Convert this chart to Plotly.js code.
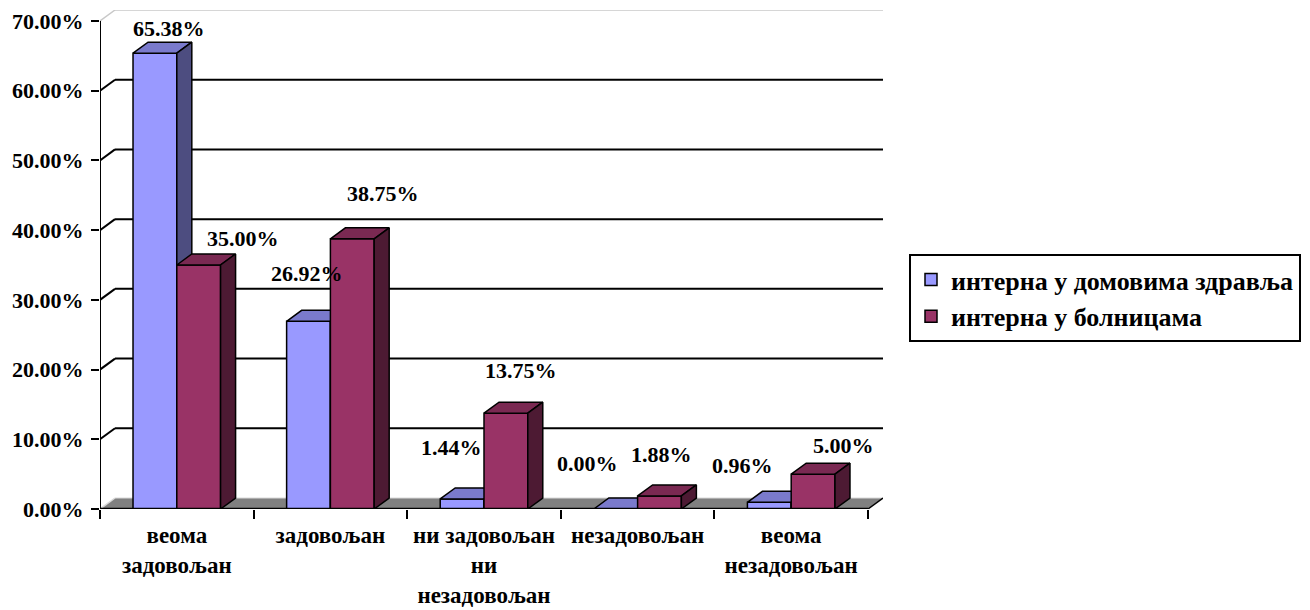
<!DOCTYPE html>
<html>
<head>
<meta charset="utf-8">
<script src="https://cdn.plot.ly/plotly-3.0.1.min.js"></script>
<style>
  html, body { margin: 0; padding: 0; background: #fff; }
  #chart { width: 1310px; height: 610px; }
  #chart svg text { font-family: 'Liberation Serif', 'Times New Roman', serif !important; }
</style>
</head>
<body>
<div id="chart"></div>
<script>
// Satisfaction with internal medicine services, two settings
const categories = [
  'веома<br>задовољан',
  'задовољан',
  'ни задовољан<br>ни<br>незадовољан',
  'незадовољан',
  'веома<br>незадовољан'
];
const seriesNames = ['интерна у домовима здравља', 'интерна у болницама'];
const healthCenters = [65.38, 26.92, 1.44, 0.00, 0.96];
const hospitals = [35.00, 38.75, 13.75, 1.88, 5.00];
const yTicks = [0, 10, 20, 30, 40, 50, 60, 70];
const yTickText = yTicks.map(t => t.toFixed(2) + '%');

// Pseudo-3D geometry (category units / percent units)
const BAR_W = 0.285;      // width of each column front face
const DEPTH_X = 0.0977;   // horizontal depth offset
const DEPTH_Y = 1.578;    // vertical depth offset
const Y_MAX = 70;

const FONT = 'Liberation Serif';

const palette = [
  { front: '#9999FF', top: '#7A7ACC', side: '#4D4D80' },
  { front: '#993366', top: '#7A2952', side: '#4D1A33' }
];

// Label nudges in pixels [right, down] relative to the back-top centre of each column
const labelNudge = [
  [[-1, -14], [-17, -37], [-26, -40], [-43, -35], [-42, -26]],
  [[29, -16], [16, -34], [0, -32], [-13, -30], [15, -18]]
];

const seriesValues = [healthCenters, hospitals];
const idx = categories.map((_, i) => i);

function facePolys(values, offset) {
  const top = { x: [], y: [] };
  const side = { x: [], y: [] };
  values.forEach((v, i) => {
    const a = i + offset, b = a + BAR_W;
    top.x.push(a, b, b + DEPTH_X, a + DEPTH_X, a, null);
    top.y.push(v, v, v + DEPTH_Y, v + DEPTH_Y, v, null);
    side.x.push(b, b + DEPTH_X, b + DEPTH_X, b, b, null);
    side.y.push(0, DEPTH_Y, v + DEPTH_Y, v, 0, null);
  });
  return { top, side };
}

const traces = [];
seriesValues.forEach((vals, s) => {
  const offset = s === 0 ? -BAR_W : 0;
  const xa = s === 0 ? 'x' : 'x2';
  const ya = s === 0 ? 'y' : 'y2';
  traces.push({
    type: 'bar', name: seriesNames[s], x: idx, y: vals,
    width: BAR_W, offset: offset, xaxis: xa, yaxis: ya,
    marker: { color: palette[s].front, line: { color: '#000', width: 1.5 } },
    hoverinfo: 'skip', legendrank: s + 1
  });
  const f = facePolys(vals, offset);
  ['top', 'side'].forEach(k => {
    traces.push({
      type: 'scatter', mode: 'lines', x: f[k].x, y: f[k].y,
      xaxis: xa, yaxis: ya, fill: 'toself', fillcolor: palette[s][k],
      line: { color: '#000', width: 1.5 }, showlegend: false, hoverinfo: 'skip'
    });
  });
});

const shapes = [];
// floor
shapes.push({
  type: 'path', xref: 'x', yref: 'y', layer: 'below',
  path: `M${-0.5},0 L4.5,0 L${4.5 + DEPTH_X},${DEPTH_Y} L${-0.5 + DEPTH_X},${DEPTH_Y} Z`,
  fillcolor: '#808080', line: { width: 0 }
});
shapes.push({
  type: 'line', xref: 'x', yref: 'y', layer: 'below',
  x0: -0.5, y0: 0, x1: -0.5 + DEPTH_X, y1: DEPTH_Y, line: { color: '#d9d9d9', width: 1.5 }
});
shapes.push({
  type: 'line', xref: 'x', yref: 'y', layer: 'below',
  x0: -0.5 + DEPTH_X, y0: DEPTH_Y, x1: 4.5 + DEPTH_X, y1: DEPTH_Y, line: { color: '#d9d9d9', width: 1 }
});
// back-wall gridlines with their diagonal connectors
yTicks.filter(t => t > 0).forEach(t => {
  const col = t === Y_MAX ? '#c8c8c8' : '#000';
  const w = t === Y_MAX ? 1.5 : 2;
  shapes.push({
    type: 'line', xref: 'x', yref: 'y', layer: 'below',
    x0: -0.5 + DEPTH_X, y0: t + DEPTH_Y, x1: 4.5 + DEPTH_X, y1: t + DEPTH_Y,
    line: { color: col, width: w }
  });
  shapes.push({
    type: 'line', xref: 'x', yref: 'y', layer: 'below',
    x0: -0.5, y0: t, x1: -0.5 + DEPTH_X, y1: t + DEPTH_Y,
    line: { color: col, width: w }
  });
});
// front axes
shapes.push({
  type: 'line', xref: 'x', yref: 'y', layer: 'above',
  x0: -0.5, y0: 0, x1: -0.5, y1: Y_MAX, line: { color: '#000', width: 2 }
});
shapes.push({
  type: 'line', xref: 'x', yref: 'y', layer: 'above',
  x0: -0.5, y0: 0, x1: 4.5, y1: 0, line: { color: '#000', width: 2.5 }
});
shapes.push({
  type: 'line', xref: 'x', yref: 'y', layer: 'above',
  x0: 4.5, y0: 0, x1: 4.5 + DEPTH_X, y1: DEPTH_Y, line: { color: '#000', width: 1.5 }
});

// value labels
const annotations = [];
seriesValues.forEach((vals, s) => {
  vals.forEach((v, i) => {
    const cx = i + (s === 0 ? -BAR_W / 2 : BAR_W / 2) + DEPTH_X;
    annotations.push({
      xref: 'x', yref: 'y', x: cx, y: v + DEPTH_Y,
      text: v.toFixed(2) + '%', showarrow: false,
      xanchor: 'center', yanchor: 'middle',
      xshift: labelNudge[s][i][0], yshift: -labelNudge[s][i][1],
      font: { family: FONT, size: 22, color: '#000', weight: 'bold' }
    });
  });
});

const xRange = [-0.5, 4.5 + DEPTH_X];
const yRange = [0, Y_MAX + DEPTH_Y];

const layout = {
  width: 1310, height: 610,
  margin: { l: 100, r: 427, t: 10, b: 101 },
  paper_bgcolor: '#fff', plot_bgcolor: 'rgba(0,0,0,0)',
  showlegend: true,
  font: { family: FONT, color: '#000', weight: 'bold' },
  xaxis: {
    range: xRange, tickmode: 'array', tickvals: idx, ticktext: categories,
    ticks: '', showgrid: false, zeroline: false, showline: false,
    ticklabelstandoff: 10,
    tickfont: { family: FONT, size: 23, color: '#000', weight: 'bold' }
  },
  xaxis2: {
    range: xRange, overlaying: 'x', anchor: 'y2', side: 'bottom',
    tickmode: 'array', tickvals: [-0.5, 0.5, 1.5, 2.5, 3.5, 4.5],
    ticks: 'outside', ticklen: 9, tickwidth: 2, tickcolor: '#000',
    showticklabels: false, showgrid: false, zeroline: false, showline: false
  },
  yaxis: {
    range: yRange, tickmode: 'array', tickvals: yTicks, ticktext: yTickText,
    ticks: 'outside', ticklen: 8, tickwidth: 2, tickcolor: '#000',
    showgrid: false, zeroline: false, showline: false,
    ticklabelstandoff: 3,
    tickfont: { family: FONT, size: 22, color: '#000', weight: 'bold' }
  },
  yaxis2: {
    range: yRange, overlaying: 'y', anchor: 'x2',
    showticklabels: false, ticks: '', showgrid: false, zeroline: false, showline: false
  },
  legend: {
    xref: 'container', yref: 'container', x: 909 / 1310, y: 1 - 298 / 610,
    xanchor: 'left', yanchor: 'middle',
    bordercolor: '#000', borderwidth: 2, bgcolor: '#fff',
    font: { family: FONT, size: 26, color: '#000', weight: 'bold' },
    traceorder: 'normal'
  },
  shapes: shapes,
  annotations: annotations,
  bargap: 0
};

Plotly.newPlot('chart', traces, layout, { displayModeBar: false, staticPlot: true });
</script>
</body>
</html>
